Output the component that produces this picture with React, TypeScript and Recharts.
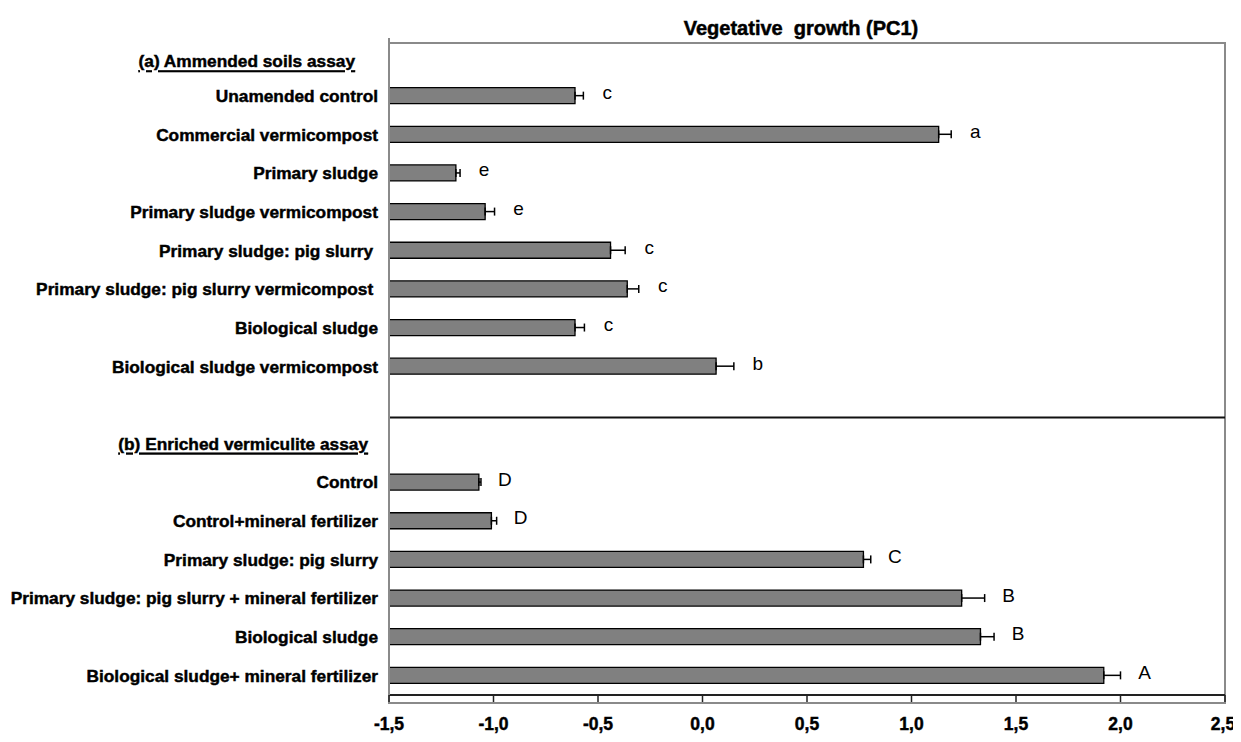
import React from 'react';
import { BarChart, Bar, XAxis, YAxis, ErrorBar, LabelList, ReferenceLine, ReferenceArea } from 'recharts';

const chartTitle = 'Vegetative  growth (PC1)';

const rowIds = ['hA', 'a1', 'a2', 'a3', 'a4', 'a5', 'a6', 'a7', 'a8', 'gap', 'hB', 'b1', 'b2', 'b3', 'b4', 'b5', 'b6'];
const rowLabels = [
  '(a) Ammended soils assay',
  'Unamended control',
  'Commercial vermicompost',
  'Primary sludge',
  'Primary sludge vermicompost',
  'Primary sludge: pig slurry ',
  'Primary sludge: pig slurry vermicompost ',
  'Biological sludge',
  'Biological sludge vermicompost',
  '',
  '(b) Enriched vermiculite assay',
  'Control',
  'Control+mineral fertilizer',
  'Primary sludge: pig slurry',
  'Primary sludge: pig slurry + mineral fertilizer',
  'Biological sludge',
  'Biological sludge+ mineral fertilizer',
];
const pc1Values = [null, -0.61, 1.13, -1.18, -1.04, -0.44, -0.36, -0.61, 0.065, null, null, -1.07, -1.01, 0.77, 1.24, 1.33, 1.92];
const seValues = [null, 0.04, 0.06, 0.02, 0.045, 0.07, 0.055, 0.045, 0.085, null, null, 0.01, 0.025, 0.035, 0.11, 0.065, 0.08];
const groupLetters = ['', 'c', 'a', 'e', 'e', 'c', 'c', 'c', 'b', '', '', 'D', 'D', 'C', 'B', 'B', 'A'];
const headerIds = ['hA', 'hB'];
const gapId = 'gap';
const xTicks = [-1.5, -1.0, -0.5, 0.0, 0.5, 1.0, 1.5, 2.0, 2.5];
const xDomain: [number, number] = [-1.5, 2.5];

const data = rowIds.map((id, i) => ({
  id,
  label: rowLabels[i],
  pc1: pc1Values[i],
  se: seValues[i],
  seBar: seValues[i] == null ? null : [0, seValues[i]],
  letter: groupLetters[i],
}));

const FONT = "'Liberation Sans', Arial, sans-serif";

const headerShift: Record<string, { dx: number; dy: number }> = {
  hA: { dx: -23, dy: 4 },
  hB: { dx: -10, dy: 0 },
};

const YTick = (props: any) => {
  const { x, y, payload } = props;
  const i = rowIds.indexOf(payload.value);
  const label = rowLabels[i] || '';
  const isHeader = headerIds.includes(payload.value);
  const sh = isHeader ? headerShift[payload.value] : { dx: 0, dy: 0 };
  return (
    <text
      x={x + sh.dx}
      y={y + sh.dy}
      textAnchor="end"
      dominantBaseline="central"
      fontFamily={FONT}
      fontWeight={700}
      fontSize={17.3}
      fill="#000"
      stroke="#000"
      strokeWidth={0.45}
      textDecoration={isHeader ? 'underline' : undefined}
      style={{ whiteSpace: 'pre' }}
    >
      {label}
    </text>
  );
};

const XTick = (props: any) => {
  const { x, y, payload } = props;
  const txt = Number(payload.value).toFixed(1).replace('.', ',');
  return (
    <text
      x={x}
      y={y - 5}
      dy="0.71em"
      textAnchor="middle"
      fontFamily={FONT}
      fontWeight={700}
      fontSize={17.5}
      fill="#000"
      stroke="#000"
      strokeWidth={0.45}
    >
      {txt}
    </text>
  );
};

const LetterLabel = (props: any) => {
  const vb = props.viewBox || {};
  const x = Number(props.x ?? vb.x);
  const y = Number(props.y ?? vb.y);
  const width = Number(props.width ?? vb.width);
  const height = Number(props.height ?? vb.height);
  const row = data.find((d) => d.id === props.value);
  if (!row || !row.letter || row.pc1 == null || !isFinite(x) || !isFinite(width)) return null;
  const pxPerUnit = width / (row.pc1 - xDomain[0]);
  const errEnd = x + width + (row.se || 0) * pxPerUnit;
  return (
    <text
      x={errEnd + 24}
      y={y + height / 2 - 3}
      textAnchor="middle"
      dominantBaseline="central"
      fontFamily={FONT}
      fontSize={19}
      fill="#000"
    >
      {row.letter}
    </text>
  );
};

const FrameShape = (props: any) => {
  const { x, y, width, height } = props;
  return <rect x={x} y={y + 5} width={width} height={height + 3} fill="none" stroke="#8a8a8a" strokeWidth={2} />;
};

const DividerShape = (props: any) => {
  const { x1, y1, x2, y2 } = props;
  return <line x1={x1} y1={y1 - 7} x2={x2} y2={y2 - 7} stroke="#111" strokeWidth={2} />;
};

export default function App() {
  return (
    <div style={{ position: 'relative', width: 1225, height: 726 }}>
      <style>{'.recharts-surface{overflow:visible}'}</style>
      <div
        style={{
          position: 'absolute',
          top: 10,
          left: 793,
          transform: 'translateX(-50%)',
          fontFamily: FONT,
          fontWeight: 700,
          fontSize: 20,
          lineHeight: '20px',
          whiteSpace: 'pre',
          color: '#000',
          WebkitTextStroke: '0.5px #000',
        }}
      >
        {chartTitle}
      </div>
      <BarChart
        width={1225}
        height={726}
        data={data}
        layout="vertical"
        margin={{ top: 30, right: 8, bottom: 9, left: 0 }}
      >
        <ReferenceArea x1={xDomain[0]} x2={xDomain[1]} shape={<FrameShape />} ifOverflow="visible" />
        <XAxis
          type="number"
          domain={xDomain}
          ticks={xTicks}
          allowDataOverflow
          height={30}
          tickSize={7}
          tickMargin={21}
          axisLine={{ stroke: '#222', strokeWidth: 2 }}
          tickLine={{ stroke: '#222', strokeWidth: 1.5 }}
          tick={<XTick />}
        />
        <YAxis
          type="category"
          dataKey="id"
          width={381}
          interval={0}
          tickSize={0}
          tickMargin={11}
          tickLine={false}
          axisLine={{ stroke: '#8a8a8a', strokeWidth: 2 }}
          tick={<YTick />}
        />
        <ReferenceLine y={gapId} position="end" shape={<DividerShape />} />
        <Bar
          dataKey={(d: any) => (d.pc1 == null ? null : [xDomain[0], d.pc1])}
          fill="#808080"
          stroke="#000"
          strokeWidth={1.3}
          barSize={16}
          isAnimationActive={false}
        >
          <ErrorBar dataKey="seBar" direction="x" width={4} stroke="#000" strokeWidth={1.5} />
          <LabelList dataKey="id" content={<LetterLabel />} />
        </Bar>
      </BarChart>
    </div>
  );
}
